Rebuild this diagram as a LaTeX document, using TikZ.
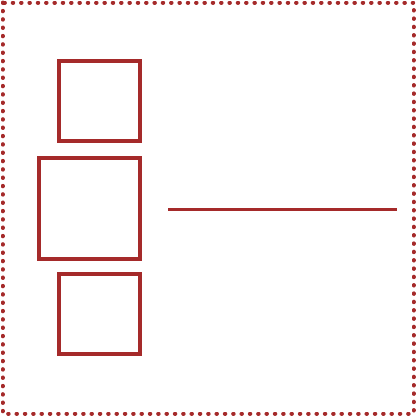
\documentclass[tikz,border=0pt]{standalone}
\definecolor{brk}{HTML}{A52A2A}
\begin{document}
\begin{tikzpicture}[x=1pt,y=-1pt,
  framedots/.style={draw=brk,line width=4pt,line cap=round,dash pattern=on 0.5pt off 7.833pt}]
\useasboundingbox (0,0) rectangle (416,416);
\draw[framedots] (2.5,2.5) rectangle (413.5,413.5);
\draw[brk,line width=4pt] (59,61) rectangle (140,141) coordinate (topbox);
\draw[brk,line width=4pt] (39,158) rectangle (140,259) coordinate (midbox);
\draw[brk,line width=4pt] (59,274) rectangle (140,354) coordinate (botbox);
\coordinate (la) at (168,209.3);
\coordinate (lb) at (397,209.3);
\draw[brk,line width=3pt] (la) -- (lb);
\end{tikzpicture}
\end{document}
